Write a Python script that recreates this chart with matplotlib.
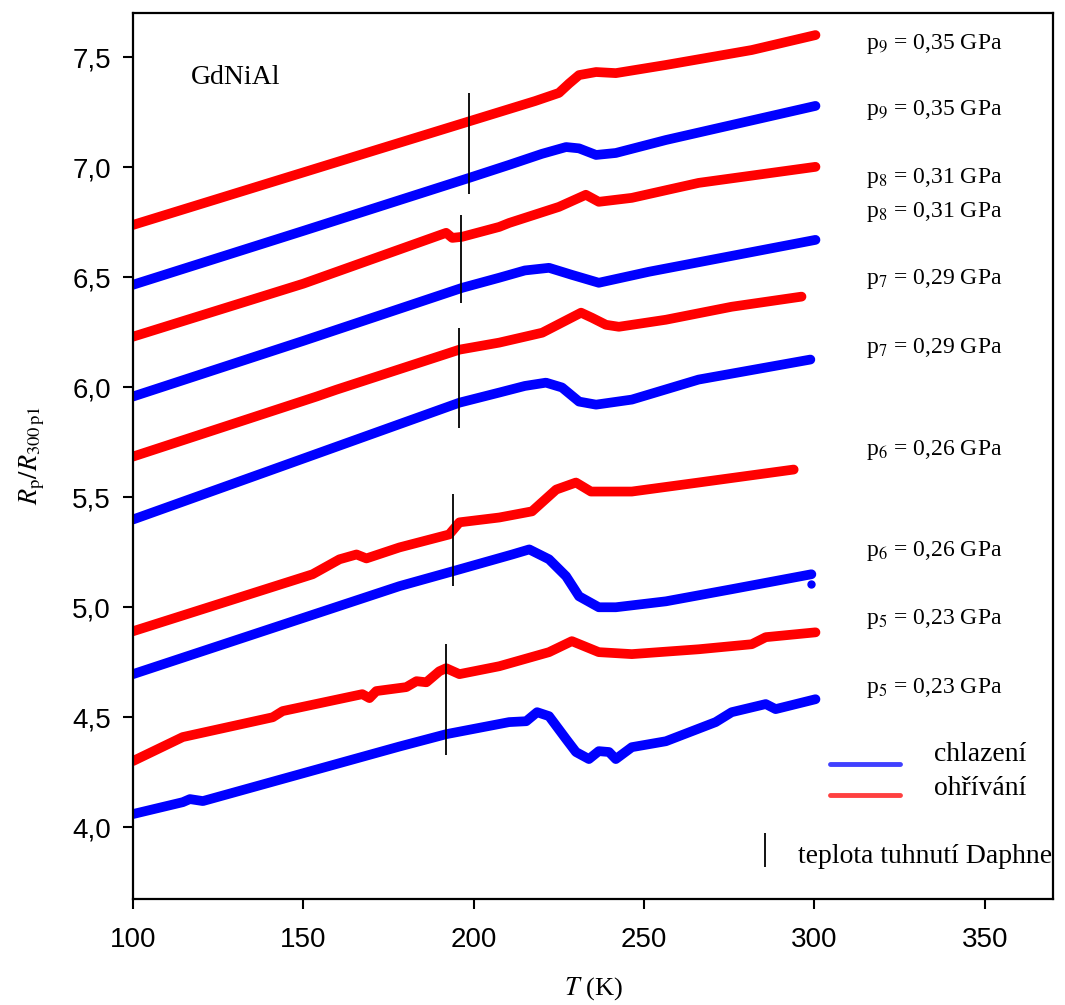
import matplotlib
matplotlib.use("Agg")
import matplotlib.pyplot as plt

plt.rcParams['font.family'] = ['Liberation Sans', 'DejaVu Sans']
plt.rcParams['mathtext.fontset'] = 'stix'

# cooling (chlazeni) curves - blue
t_c9 = [100, 150, 198.7, 210.4, 220, 227.1, 230.9, 235.9, 241.7, 256.4, 300.3]
r_c9 = [6.465, 6.71, 6.951, 7.010, 7.06, 7.091, 7.085, 7.055, 7.064, 7.123, 7.278]
t_c8 = [100, 150, 196.6, 207.5, 215, 222.1, 228.8, 236.7, 251.4, 300.3]
r_c8 = [5.957, 6.21, 6.451, 6.497, 6.53, 6.542, 6.510, 6.474, 6.524, 6.669]
t_c7 = [100, 139, 195.8, 207.5, 215, 221.2, 225.9, 230.9, 235.9, 246.4, 266.0, 298.8]
r_c7 = [5.398, 5.614, 5.929, 5.975, 6.005, 6.020, 5.998, 5.934, 5.920, 5.943, 6.034, 6.125]
t_c6 = [100, 178.2, 193.7, 211.3, 216.3, 222.1, 227.1, 230.9, 236.7, 241.7, 256.4, 275.7, 299.1]
r_c6 = [4.695, 5.095, 5.162, 5.239, 5.262, 5.217, 5.140, 5.049, 4.999, 4.999, 5.026, 5.081, 5.149]
t_c5 = [100, 114.6, 116.7, 120.5, 178.2, 191.9, 210.4, 215.4, 218.6, 222.1, 227.1, 230.0, 233.8,
        236.7, 239.7, 241.7, 246.4, 256.4, 271.0, 275.7, 285.7, 288.6, 300.3]
r_c5 = [4.059, 4.113, 4.127, 4.118, 4.366, 4.422, 4.477, 4.481, 4.522, 4.504, 4.400, 4.341, 4.309,
        4.345, 4.341, 4.309, 4.363, 4.390, 4.477, 4.522, 4.559, 4.536, 4.581]
stray_T, stray_R = [299.1], [5.103]

# heating (ohrivani) curves - red
t_h9 = [100, 171.4, 207.5, 218, 225.0, 228, 230.9, 235.9, 241.7, 256.4, 281.6, 300.3]
r_h9 = [6.737, 7.078, 7.250, 7.30, 7.337, 7.38, 7.418, 7.432, 7.427, 7.464, 7.532, 7.600]
t_h8 = [100, 150, 191.9, 193.7, 196.6, 207.5, 210.4, 225.0, 232.9, 236.7, 246.4, 266.0, 300.3]
r_h8 = [6.229, 6.47, 6.701, 6.678, 6.683, 6.728, 6.746, 6.819, 6.874, 6.842, 6.860, 6.928, 7.001]
t_h7 = [100, 153.9, 159.7, 195.8, 207.5, 220.1, 231.5, 234.7, 238.8, 242.6, 256.4, 275.7, 296.2]
r_h7 = [5.684, 5.957, 5.988, 6.170, 6.202, 6.247, 6.338, 6.315, 6.283, 6.274, 6.306, 6.365, 6.411]
t_h6 = [100, 152.7, 160.6, 165.6, 168.5, 178.2, 192.8, 195.8, 207.5, 217.1, 224.2, 230.0, 234.4,
        246.4, 266.0, 293.9]
r_h6 = [4.890, 5.149, 5.217, 5.239, 5.221, 5.271, 5.330, 5.385, 5.407, 5.435, 5.534, 5.566, 5.525,
        5.525, 5.566, 5.625]
t_h5 = [100, 114.6, 141.0, 143.9, 167.3, 169.4, 171.4, 180.2, 183.2, 186.1, 189.9, 191.9, 195.8,
        207.5, 222.1, 228.8, 236.7, 246.4, 266.0, 281.6, 285.7, 300.3]
r_h5 = [4.300, 4.409, 4.499, 4.527, 4.604, 4.586, 4.618, 4.636, 4.663, 4.658, 4.708, 4.722, 4.695,
        4.731, 4.795, 4.845, 4.795, 4.786, 4.808, 4.831, 4.863, 4.885]

# Daphne oil solidification marks
freeze_T = [198.5, 196.4, 195.6, 193.8, 192.0]
freeze_lo = [6.878, 6.383, 5.816, 5.094, 4.327]
freeze_hi = [7.337, 6.783, 6.270, 5.512, 4.831]

# pressure labels, top to bottom
p_labels = ["p$_9$ = 0,35 GPa", "p$_9$ = 0,35 GPa", "p$_8$ = 0,31 GPa", "p$_8$ = 0,31 GPa",
            "p$_7$ = 0,29 GPa", "p$_7$ = 0,29 GPa", "p$_6$ = 0,26 GPa", "p$_6$ = 0,26 GPa",
            "p$_5$ = 0,23 GPa", "p$_5$ = 0,23 GPa"]
p_label_y = [7.559, 7.259, 6.951, 6.796, 6.492, 6.179, 5.716, 5.253, 4.944, 4.631]

x_ticks = [100, 150, 200, 250, 300, 350]
y_ticks = [4.0, 4.5, 5.0, 5.5, 6.0, 6.5, 7.0, 7.5]

fig = plt.figure(figsize=(10.65, 10.05), dpi=100)
ax = fig.add_axes([0.1249, 0.1055, 0.8638, 0.8815])

lw = 7
for t, r in [(t_c9, r_c9), (t_c8, r_c8), (t_c7, r_c7), (t_c6, r_c6), (t_c5, r_c5)]:
    ax.plot(t, r, color='#0000ff', lw=lw, solid_capstyle='round', solid_joinstyle='round')
for t, r in [(t_h9, r_h9), (t_h8, r_h8), (t_h7, r_h7), (t_h6, r_h6), (t_h5, r_h5)]:
    ax.plot(t, r, color='#ff0000', lw=lw, solid_capstyle='round', solid_joinstyle='round')
ax.plot(stray_T, stray_R, 'o', color='#0000ff', ms=5)

ax.vlines(freeze_T, freeze_lo, freeze_hi, color='black', lw=1.3)

ax.set_xlim(100, 370)
ax.set_ylim(3.673, 7.70)
ax.set_xticks(x_ticks)
ax.set_xticklabels([str(v) for v in x_ticks])
ax.set_yticks(y_ticks)
ax.set_yticklabels([f"{v:.1f}".replace('.', ',') for v in y_ticks])
ax.tick_params(direction='out', length=7, width=1.5, labelsize=20)
ax.tick_params(axis='x', pad=13)
ax.tick_params(axis='y', pad=9)
for s in ax.spines.values():
    s.set_linewidth(1.6)

serif = ['Liberation Serif', 'DejaVu Serif']
ax.set_xlabel("$T$ (K)", fontsize=19, family=serif, labelpad=16)
ax.set_ylabel(r"$R_\mathrm{p}/R_{300\,\mathrm{p1}}$", fontsize=19, family=serif, labelpad=18)

ax.text(117, 7.405, "GdNiAl", fontsize=20, family=serif, va='center')

for lab, yy in zip(p_labels, p_label_y):
    ax.text(315, yy, lab, fontsize=17, family=serif, va='center')

# hand-drawn legend
ax.plot([304.5, 325], [4.286, 4.286], color='#4040ff', lw=3.5, solid_capstyle='round')
ax.plot([304.5, 325], [4.146, 4.146], color='#ff4040', lw=3.5, solid_capstyle='round')
ax.text(335, 4.33, "chlazení", fontsize=20, family=serif, va='center')
ax.text(335, 4.175, "ohřívání", fontsize=20, family=serif, va='center')
ax.vlines([285.4], [3.819], [3.973], color='black', lw=1.3)
ax.text(295.3, 3.864, "teplota tuhnutí Daphne", fontsize=20, family=serif, va='center', clip_on=False)

fig.savefig("out.png", dpi=100)
